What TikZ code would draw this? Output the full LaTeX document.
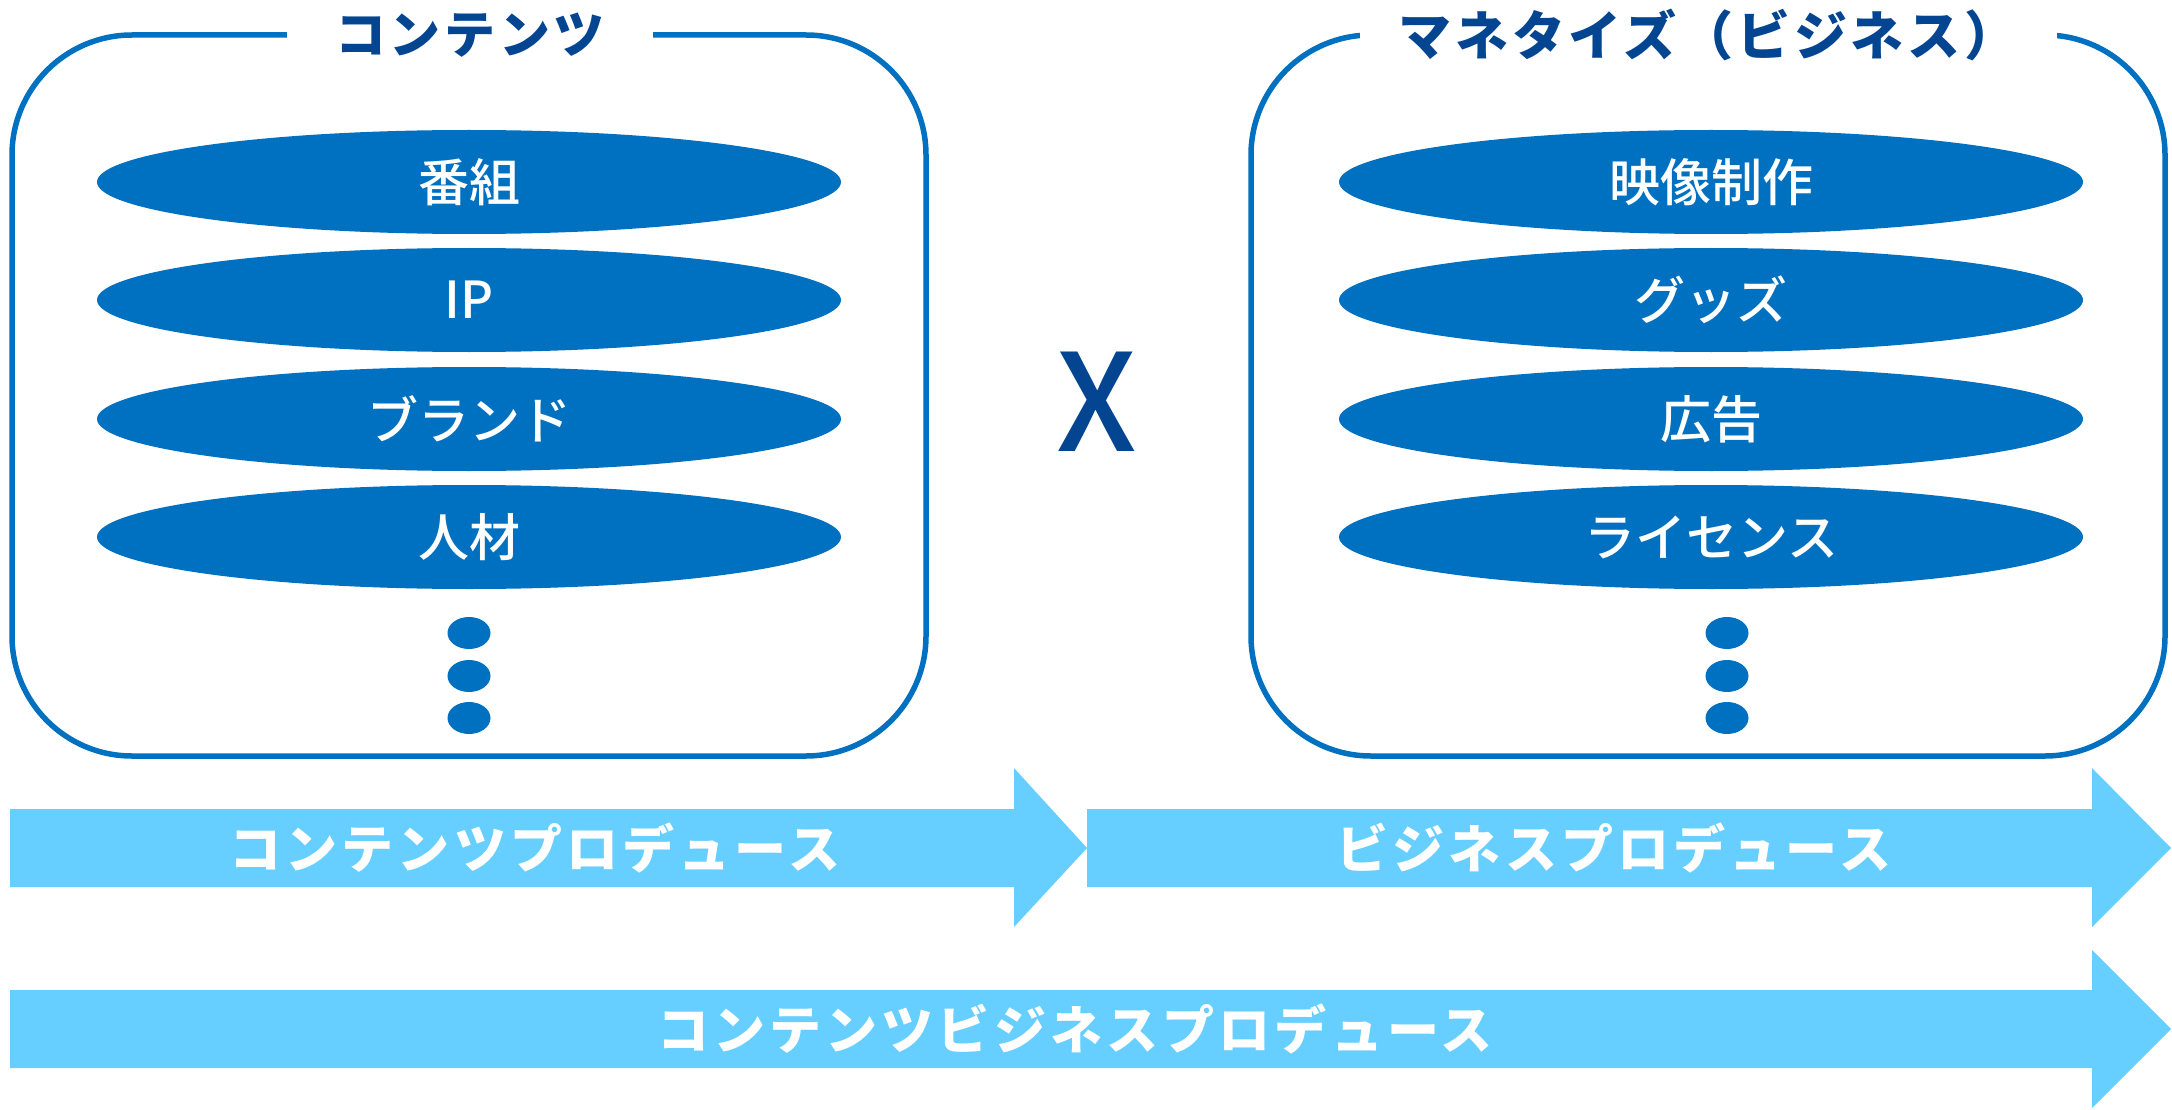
\documentclass[tikz,border=0pt]{standalone}
\usepackage{fontspec}
\usetikzlibrary{shapes.geometric}
\newfontfamily\jp{Noto Sans CJK JP}
\newfontfamily\jpm{Noto Sans CJK JP Medium}
\newfontfamily\jpsp[LetterSpace=8]{Noto Sans CJK JP}
\newfontfamily\jpti[LetterSpace=7]{Noto Sans CJK JP}
\definecolor{boxblue}{HTML}{0070C0}
\definecolor{titleblue}{HTML}{034591}
\definecolor{arrowblue}{HTML}{66CFFF}
\begin{document}
\begin{tikzpicture}[x=1pt,y=-1pt,
  frame/.style={draw=boxblue, line width=5.5pt, rounded corners=120pt},
  titletext/.style={fill=white, inner xsep=0pt, inner ysep=4pt, text=titleblue,
    font=\jpti\bfseries\fontsize{51}{60}\selectfont},
  item/.style={ellipse, fill=boxblue, minimum width=744pt, minimum height=104pt,
    inner sep=0pt, text=white, font=\jpm\fontsize{51}{60}\selectfont},
  dotmark/.style={ellipse, fill=boxblue, minimum width=43pt, minimum height=32pt, inner sep=0pt},
  arrowshape/.style={fill=arrowblue},
  arrowtext/.style={text=white, font=\jpsp\bfseries\fontsize{52}{60}\selectfont, inner sep=0pt},
  cross/.style={text=titleblue, font=\jpm\fontsize{135}{140}\selectfont, inner sep=0pt}
]
\useasboundingbox (0,0) rectangle (2172,1110);
\fill[white] (0,0) rectangle (2172,1110);

% left frame
\draw[frame] (12,35) rectangle (926,756);
\node[titletext, minimum width=366pt] (lt) at (470,35) {コンテンツ};
\node[item] (l1) at (469,182) {番組};
\node[item] (l2) at (469,300) {IP};
\node[item] (l3) at (469,419) {ブランド};
\node[item] (l4) at (469,537) {人材};
\node[dotmark] (ld1) at (469,633) {};
\node[dotmark] (ld2) at (469,676) {};
\node[dotmark] (ld3) at (469,718) {};

% cross
\node[cross] (x) at (1097,402) {X};

% right frame
\draw[frame] (1251,35) rectangle (2165,756);
\node[titletext, minimum width=697pt, font=\jpti\bfseries\fontsize{53}{60}\selectfont] (rt) at (1708,35) {マネタイズ（ビジネス）};
\node[item] (r1) at (1711,182) {映像制作};
\node[item] (r2) at (1711,300) {グッズ};
\node[item] (r3) at (1711,419) {広告};
\node[item] (r4) at (1711,537) {ライセンス};
\node[dotmark] (rd1) at (1727,633) {};
\node[dotmark] (rd2) at (1727,676) {};
\node[dotmark] (rd3) at (1727,718) {};

% arrows
\fill[arrowshape] (10,809) -- (1014,809) -- (1014,768) -- (1087,848) -- (1014,927) -- (1014,887) -- (10,887) -- cycle;
\fill[arrowshape] (1087,809) -- (2092,809) -- (2092,768) -- (2171,848) -- (2092,927) -- (2092,887) -- (1087,887) -- cycle;
\fill[arrowshape] (10,990) -- (2092,990) -- (2092,950) -- (2171,1029) -- (2092,1108) -- (2092,1068) -- (10,1068) -- cycle;
\node[arrowtext] (a1) at (535,848) {コンテンツプロデュース};
\node[arrowtext] (a2) at (1614,848) {ビジネスプロデュース};
\node[arrowtext] (a3) at (1075,1029) {コンテンツビジネスプロデュース};
\end{tikzpicture}
\end{document}
